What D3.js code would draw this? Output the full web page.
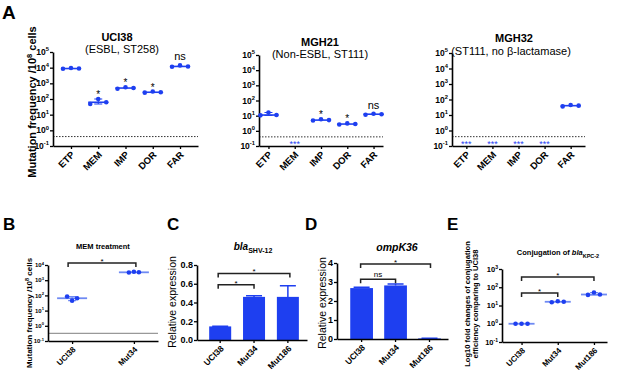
<!DOCTYPE html>
<html><head><meta charset="utf-8">
<script src="https://cdn.jsdelivr.net/npm/d3@7"></script>
<style>body{margin:0;background:#fff}svg{display:block;font-family:"Liberation Sans",Arial,sans-serif}</style>
</head><body><svg id="c" width="617" height="374"></svg>
<script>
// ---------- data ----------
const drugs = ["ETP","MEM","IMP","DOR","FAR"];
const strainsA = ["UCI38","MGH21","MGH32"];
const subtitlesA = ["(ESBL, ST258)","(Non-ESBL, ST111)","(ST111, no β-lactamase)"];
const freqUCI38 = [[8500,9500,8800],[48,100,62],[450,560,500],[255,300,270],[11500,14000,12000]];
const freqMGH21 = [[10.5,16,11],null,[4.8,5.8,5.1],[2.6,3.1,2.8],[11.5,13.5,12.5]];
const freqMGH32 = [null,null,null,null,[36,44,40]];
const sigUCI38 = ["","*","*","*","ns"];
const sigMGH21 = ["","","*","*","ns"];
const sigMGH32 = ["","","","",""];
const detectionLimit = 0.4;
const logTicksA = [0.1,1,10,100,1e3,1e4,1e5];

const groupsB = ["UCI38","Mut34"];
const freqMEM = [[85,45,65],[3200,3600,3300]];
const logTicksB = [0.1,1,10,100,1e3,1e4];

const groupsCDE = ["UCI38","Mut34","Mut186"];
const shvMean = [0.145,0.46,0.46];
const shvErr = [0.003,0.012,0.12];
const ticksC = [0,0.2,0.4,0.6,0.8];
const ompMean = [2.68,2.82,0.03];
const ompErr = [0.05,0.08,0.005];
const ticksD = [0,1,2,3,4];
const conjFold = [[1,1,1],[15,17,16],[38,52,40]];
const logTicksE = [0.1,1,10,100,1e3];

// ---------- helpers ----------
const svg = d3.select("#c");
const BLUE = "#1e3ff0";
const LIGHT = "#6f8af3";

function styleAxis(ax){
  ax.select(".domain").attr("stroke","#000").attr("stroke-width",1.6);
  ax.selectAll(".tick line").attr("stroke","#000").attr("stroke-width",1.3);
}
function logYAxis(y, x0, ticks, fs){
  const ax = svg.append("g").attr("transform",`translate(${x0},0)`)
    .call(d3.axisLeft(y).tickValues(ticks).tickSize(3).tickSizeOuter(0).tickFormat(""));
  styleAxis(ax);
  ticks.forEach(v=>{
    const t = svg.append("text").attr("x",x0-4).attr("y",y(v)+fs*0.36)
      .attr("text-anchor","end").attr("font-size",fs).attr("font-weight","bold");
    t.append("tspan").text("10");
    t.append("tspan").attr("dy",-fs*0.42).attr("font-size",fs*0.68).text(Math.round(Math.log10(v)));
  });
}
function linYAxis(y, x0, ticks, fs, fmt){
  const ax = svg.append("g").attr("transform",`translate(${x0},0)`)
    .call(d3.axisLeft(y).tickValues(ticks).tickSize(3).tickSizeOuter(0).tickFormat(fmt))
  styleAxis(ax);
  ax.selectAll(".tick text").attr("font-size",fs).attr("font-weight","bold")
    .attr("font-family",'"Liberation Sans",Arial,sans-serif').attr("fill","#000").attr("x",-4);
}
function catXAxis(x, y0, fs){
  const ax = svg.append("g").attr("transform",`translate(0,${y0})`)
    .call(d3.axisBottom(x).tickSize(3).tickSizeOuter(0).tickFormat(""));
  styleAxis(ax);
  x.domain().forEach(c=>{
    const cx = x(c) + (x.bandwidth ? x.bandwidth()/2 : 0);
    svg.append("g").attr("transform",`translate(${(cx+2).toFixed(1)},${y0+7})`)
      .append("text").attr("transform","rotate(-45)")
      .attr("dy","0.35em").attr("text-anchor","end").attr("font-size",fs)
      .attr("font-weight","bold").text(c);
  });
}
function dots(x, y, cats, data, offs, half, lineColor, lw){
  cats.forEach((c,i)=>{
    const vals = data[i]; if(!vals) return;
    const cx = x(c);
    const med = d3.median(vals), mn = d3.min(vals), mx = d3.max(vals);
    svg.append("line").attr("x1",cx-half).attr("x2",cx+half).attr("y1",y(med)).attr("y2",y(med))
      .attr("stroke",lineColor).attr("stroke-width",lw);
    if (y(mn)-y(mx) > 1.5){
      svg.append("path").attr("d",`M${cx-4},${y(mx)}H${cx+4}M${cx},${y(mx)}V${y(mn)}M${cx-4},${y(mn)}H${cx+4}`)
        .attr("stroke",lineColor).attr("stroke-width",1.1).attr("fill","none");
    }
    vals.forEach((v,j)=>{
      svg.append("circle").attr("cx",cx+offs[j]).attr("cy",y(v)).attr("r",2.3).attr("fill",BLUE);
    });
  });
}
function bracket(xa, xb, yb, label, fs, weight){
  svg.append("path").attr("d",`M${xa},${yb+4}V${yb}H${xb}V${yb+4}`)
    .attr("fill","none").attr("stroke","#222").attr("stroke-width",1.5);
  const isStar = label==="*";
  svg.append("text").attr("x",(xa+xb)/2).attr("y", isStar ? yb+1 : yb-2)
    .attr("text-anchor","middle").attr("font-size",fs).attr("font-weight",weight||"normal").text(label);
}
function panelLetter(t,x,y,fs){
  svg.append("text").attr("x",x).attr("y",y).attr("font-size",fs).attr("font-weight","bold").text(t);
}
function rotLabel(lines, cx, cy, fs, weight, sup){
  lines.forEach((ln,k)=>{
    const t = svg.append("g").attr("transform",`translate(${cx + k*fs*1.1},${cy})`)
      .append("text").attr("transform","rotate(-90)")
      .attr("text-anchor","middle").attr("font-size",fs).attr("font-weight",weight);
    if (sup && k===0){
      t.append("tspan").text(ln[0]);
      t.append("tspan").attr("dy",-fs*0.4).attr("font-size",fs*0.68).text(ln[1]);
      t.append("tspan").attr("dy",fs*0.4).text(ln[2]);
    } else t.text(ln);
  });
}

// ---------- Panel A ----------
panelLetter("A",2,19,19);
rotLabel([["Mutation frequency /10","8"," cells"]],36,102,11,"bold",true);

const cfgA = [
  {data:freqUCI38, sig:sigUCI38, x0:53, x1:198, pad:0.66, yTop:52, tY:41, sY:53, tX:117, sX:122},
  {data:freqMGH21, sig:sigMGH21, x0:259, x1:383, pad:0.36, yTop:55, tY:46, sY:58, tX:320, sX:320},
  {data:freqMGH32, sig:sigMGH32, x0:452, x1:585, pad:0.55, yTop:53, tY:42, sY:55, tX:514, sX:511}
];
cfgA.forEach((p,k)=>{
  const y = d3.scaleLog().domain([0.1,1e5]).range([146,p.yTop]);
  const x = d3.scalePoint().domain(drugs).range([p.x0,p.x1]).padding(p.pad);
  svg.append("text").attr("x",p.tX).attr("y",p.tY).attr("text-anchor","middle")
    .attr("font-size",11).attr("font-weight","bold").text(strainsA[k]);
  svg.append("text").attr("x",p.sX).attr("y",p.sY).attr("text-anchor","middle")
    .attr("font-size",11).text(subtitlesA[k]);
  svg.append("line").attr("x1",p.x0).attr("x2",p.x1).attr("y1",y(detectionLimit)).attr("y2",y(detectionLimit))
    .attr("stroke","#333").attr("stroke-width",1).attr("stroke-dasharray","1.5,1.5");
  logYAxis(y,p.x0,logTicksA,8.5);
  catXAxis(x,146,9.5);
  dots(x,y,drugs,p.data,[-8,0,8],10,BLUE,1.6);
  drugs.forEach((d,i)=>{
    const vals = p.data[i];
    if (!vals){
      svg.append("text").attr("x",x(d)).attr("y",147).attr("text-anchor","middle")
        .attr("font-size",9).attr("fill",BLUE).text("***");
      return;
    }
    const s = p.sig[i]; if(!s) return;
    const top = y(d3.max(vals));
    if (s==="ns") svg.append("text").attr("x",x(d)).attr("y",top-5).attr("text-anchor","middle").attr("font-size",11).text("ns");
    else svg.append("text").attr("x",x(d)).attr("y",top-1).attr("text-anchor","middle").attr("font-size",10).text(s);
  });
});

// ---------- Panel B ----------
panelLetter("B",3,230,17);
rotLabel([["Mutation frequency /10","8"," cells"]],32,313,8,"bold",true);
{
  const y = d3.scaleLog().domain([0.1,1e4]).range([341,265]);
  const x = d3.scalePoint().domain(groupsB).range([48,158]).padding(0.39);
  svg.append("text").attr("x",103).attr("y",249).attr("text-anchor","middle")
    .attr("font-size",7.5).attr("font-weight","bold").text("MEM treatment");
  svg.append("line").attr("x1",48).attr("x2",158).attr("y1",y(detectionLimit*0.8)).attr("y2",y(detectionLimit*0.8))
    .attr("stroke","#999").attr("stroke-width",1.2);
  logYAxis(y,48,logTicksB,6);
  catXAxis(x,341,8);
  dots(x,y,groupsB,freqMEM,[-5,0,5],15,LIGHT,1.8);
  bracket(x(groupsB[0])-4, x(groupsB[1])+2, y(13500), "*", 8);
}

// ---------- Panel C ----------
panelLetter("C",167,230,17);
rotLabel(["Relative expression"],176,302,10.5,"normal");
{
  const y = d3.scaleLinear().domain([0,0.8]).range([340,265]);
  const x = d3.scaleBand().domain(groupsCDE).range([197,307]).paddingInner(0.35).paddingOuter(0.3).align(0.6);
  const t = svg.append("text").attr("x",253).attr("y",250).attr("text-anchor","middle")
    .attr("font-size",10).attr("font-weight","bold");
  t.append("tspan").attr("font-style","italic").text("bla");
  t.append("tspan").attr("dy",3).attr("font-size",7).text("SHV-12");
  groupsCDE.forEach((g,i)=>{
    const cx = x(g)+x.bandwidth()/2, top = y(shvMean[i]+shvErr[i]);
    svg.append("path").attr("d",`M${cx},${y(shvMean[i])}V${top}M${cx-8},${top}H${cx+8}`)
      .attr("stroke",BLUE).attr("stroke-width",1.5).attr("fill","none");
  });
  svg.selectAll(null).data(groupsCDE).enter().append("rect")
    .attr("x",d=>x(d)).attr("width",x.bandwidth())
    .attr("y",(d,i)=>y(shvMean[i])).attr("height",(d,i)=>y(0)-y(shvMean[i]))
    .attr("fill",BLUE);
  linYAxis(y,197,ticksC,9,d3.format(".1f"));
  catXAxis(x,340,8.5);
  const c = g=>x(g)+x.bandwidth()/2;
  bracket(c("UCI38")-2, c("Mut186")+2, y(0.71), "*", 8);
  bracket(c("UCI38")-2, c("Mut34"), y(0.59), "*", 8);
}

// ---------- Panel D ----------
panelLetter("D",305,230,17);
rotLabel(["Relative expression"],326,303,10.5,"normal");
{
  const y = d3.scaleLinear().domain([0,4]).range([339,263]);
  const x = d3.scaleBand().domain(groupsCDE).range([337,448]).paddingInner(0.33).paddingOuter(0.3).align(0.65);
  svg.append("text").attr("x",397).attr("y",251).attr("text-anchor","middle")
    .attr("font-size",10.5).attr("font-weight","bold").attr("font-style","italic").text("ompK36");
  groupsCDE.forEach((g,i)=>{
    const cx = x(g)+x.bandwidth()/2, top = y(ompMean[i]+ompErr[i]);
    svg.append("path").attr("d",`M${cx},${y(ompMean[i])}V${top}M${cx-8},${top}H${cx+8}`)
      .attr("stroke",BLUE).attr("stroke-width",1.5).attr("fill","none");
  });
  svg.selectAll(null).data(groupsCDE).enter().append("rect")
    .attr("x",d=>x(d)).attr("width",x.bandwidth())
    .attr("y",(d,i)=>y(ompMean[i])).attr("height",(d,i)=>Math.max(1.5,y(0)-y(ompMean[i])))
    .attr("fill",BLUE);
  linYAxis(y,337,ticksD,9,d3.format("d"));
  catXAxis(x,339,8.5);
  const c = g=>x(g)+x.bandwidth()/2;
  bracket(c("UCI38")-1, c("Mut186")+1, y(3.95), "*", 8);
  bracket(c("UCI38")-1, c("Mut34"), y(3.15), "ns", 8);
}

// ---------- Panel E ----------
panelLetter("E",447,230,17);
rotLabel(["Log10 fold changes of conjugation","efficiency comparing to UCI38"],470,304,7.6,"bold");
{
  const y = d3.scaleLog().domain([0.1,1e3]).range([342,269]);
  const x = d3.scalePoint().domain(groupsCDE).range([502,607]).padding(0.45).align(0.6);
  const t = svg.append("text").attr("x",558).attr("y",255).attr("text-anchor","middle")
    .attr("font-size",7.5).attr("font-weight","bold");
  t.append("tspan").text("Conjugation of ");
  t.append("tspan").attr("font-style","italic").text("bla");
  t.append("tspan").attr("dy",2.5).attr("font-size",5.5).text("KPC-2");
  logYAxis(y,502,logTicksE,7.5);
  catXAxis(x,342,8);
  dots(x,y,groupsCDE,conjFold,[-6,0,6],13,LIGHT,1.8);
  bracket(x("UCI38"), x("Mut186"), y(360), "*", 8);
  bracket(x("UCI38"), x("Mut34"), y(48), "*", 8);
}
</script></body></html>
